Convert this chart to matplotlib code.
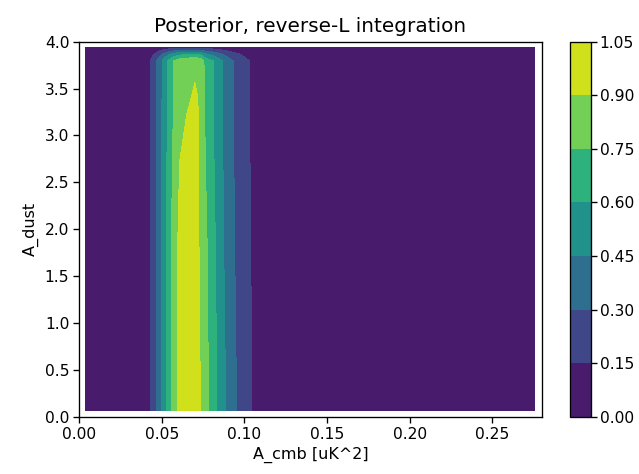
import numpy as np
import matplotlib
matplotlib.use('Agg')
import matplotlib.pyplot as plt


TITLE='Posterior, reverse-L integration'
XLABEL='A_cmb [uK^2]'
YLABEL='A_dust'
LEVELS=[0.00,0.15,0.30,0.45,0.60,0.75,0.90,1.05]
XLIM=(0,0.28)
YLIM=(0,4.0)

# grid of the posterior
A_CMB=[0.0035,0.036,0.041,0.045,0.049,0.053,0.057,0.061,0.065,0.070,
       0.073,0.077,0.081,0.085,0.090,0.096,0.103,0.110,0.120,0.2756]
A_DUST=[0.061,1.9,2.6,3.1,3.4,3.59,3.796,3.866,3.936]

ROW_0061=[0,0,0.08,0.229,0.411,0.611,0.814,0.95,0.995,0.985,
          0.91,0.79,0.67,0.552,0.414,0.285,0.167,0.08,0.02,0]
ROW_190=[0,0,0.08,0.225,0.41,0.61,0.81,0.945,0.985,0.965,
         0.885,0.76,0.64,0.52,0.374,0.263,0.16,0.075,0.02,0]
ROW_260=[0,0,0.08,0.225,0.41,0.60,0.78,0.913,0.965,0.95,
         0.879,0.732,0.62,0.505,0.37,0.255,0.155,0.072,0.02,0]
ROW_310=[0,0,0.085,0.22,0.405,0.59,0.76,0.87,0.91,0.925,
         0.889,0.704,0.607,0.495,0.365,0.25,0.152,0.07,0.02,0]
ROW_340=[0,0,0.085,0.218,0.40,0.585,0.745,0.84,0.885,0.912,
         0.892,0.674,0.60,0.49,0.36,0.245,0.148,0.068,0.02,0]
ROW_359=[0,0,0.085,0.217,0.40,0.585,0.745,0.835,0.87,0.898,
         0.875,0.683,0.60,0.49,0.36,0.245,0.148,0.068,0.02,0]
ROW_3796=[0,0,0.085,0.217,0.40,0.585,0.745,0.83,0.865,0.88,
          0.865,0.68,0.60,0.49,0.36,0.245,0.148,0.068,0.02,0]
ROW_3866=[0,0,0.058,0.148,0.272,0.398,0.507,0.564,0.588,0.60,
          0.588,0.462,0.408,0.333,0.245,0.167,0.10,0.046,0.014,0]
ROW_3936=[0,0,0.012,0.03,0.056,0.082,0.104,0.116,0.121,0.123,
          0.121,0.095,0.084,0.069,0.05,0.034,0.021,0.01,0.003,0]

ROWS=[ROW_0061,ROW_190,ROW_260,ROW_310,ROW_340,ROW_359,
      ROW_3796,ROW_3866,ROW_3936]

W,H,DPI=639,474,100
AX_BOX=[79.3/W,(H-416.7)/H,462.4/W,375/H]
CB_BOX=[570/W,(H-416.7)/H,20.5/W,375/H]

SCALE=1.2
plt.rcParams.update({
    'font.size':11.2,
    'axes.titlesize':14.4,
    'axes.labelsize':11.5,
    'axes.linewidth':0.8*SCALE,
    'xtick.major.size':3.5*SCALE,
    'ytick.major.size':3.5*SCALE,
    'xtick.major.width':0.8*SCALE,
    'ytick.major.width':0.8*SCALE,
    'xtick.major.pad':3.0,
    'ytick.major.pad':3.0,
    'axes.titlepad':6*SCALE,
})


fig=plt.figure(figsize=(W/DPI,H/DPI),dpi=DPI)
ax=fig.add_axes(AX_BOX)
cax=fig.add_axes(CB_BOX)

X,Y=np.meshgrid(A_CMB,A_DUST)
Z=np.array(ROWS)
cs=ax.contourf(X,Y,Z,levels=LEVELS,cmap='viridis')
ax.set_xlim(*XLIM)
ax.set_ylim(*YLIM)
ax.set_xticks(np.arange(0,0.26,0.05))
ax.set_yticks(np.arange(0,4.01,0.5))
ax.xaxis.set_major_formatter(matplotlib.ticker.FormatStrFormatter('%.2f'))
ax.yaxis.set_major_formatter(matplotlib.ticker.FormatStrFormatter('%.1f'))
ax.set_title(TITLE)
ax.set_xlabel(XLABEL)
ax.set_ylabel(YLABEL)

cb=fig.colorbar(cs,cax=cax)
cb.set_ticks(LEVELS)
cb.ax.yaxis.set_major_formatter(matplotlib.ticker.FormatStrFormatter('%.2f'))
cb.ax.tick_params(pad=2.5)
cb.outline.set_linewidth(0.8*SCALE)

fig.savefig('out.png',dpi=DPI)
